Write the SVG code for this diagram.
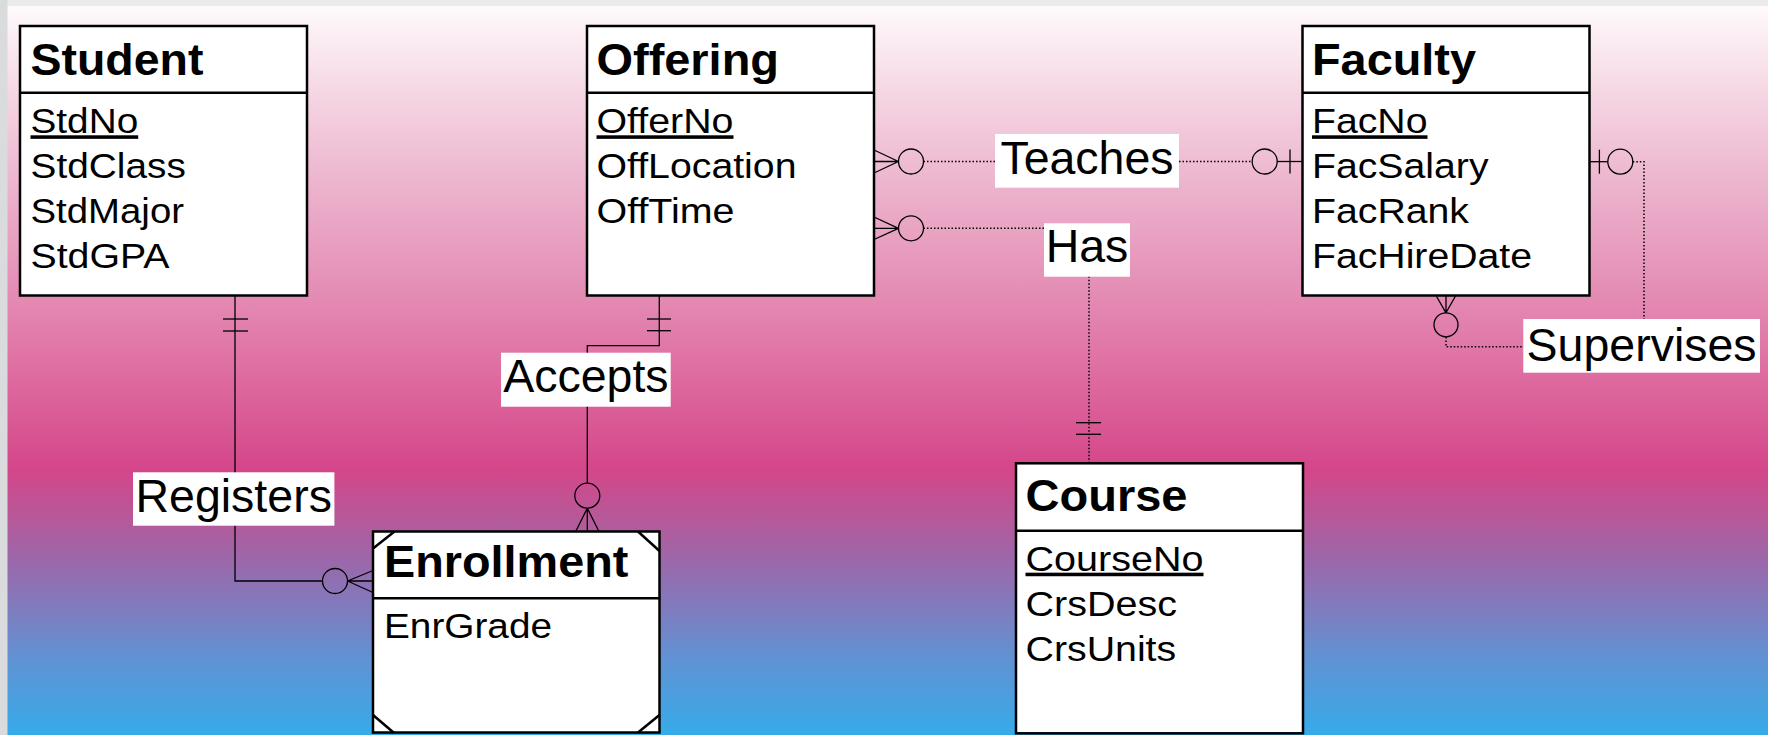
<svg xmlns="http://www.w3.org/2000/svg" width="1768" height="735" viewBox="0 0 1768 735">
  <defs>
    <linearGradient id="bg" x1="0" y1="6" x2="0" y2="735" gradientUnits="userSpaceOnUse">
      <stop offset="0" stop-color="#fefafc"/>
      <stop offset="0.1207" stop-color="#f5d6e3"/>
      <stop offset="0.2483" stop-color="#ecb3cd"/>
      <stop offset="0.3772" stop-color="#e591b7"/>
      <stop offset="0.5062" stop-color="#de6ca0"/>
      <stop offset="0.6351" stop-color="#d4468a"/>
      <stop offset="0.6996" stop-color="#b85898"/>
      <stop offset="0.7627" stop-color="#9a68ab"/>
      <stop offset="0.8272" stop-color="#7f7cbe"/>
      <stop offset="0.8916" stop-color="#6291d2"/>
      <stop offset="1" stop-color="#36abe9"/>
    </linearGradient>
    <style>
      .box{fill:#fff;stroke:#000;stroke-width:2.5}
      .div{stroke:#000;stroke-width:2.5}
      .corner{stroke:#000;stroke-width:2.5}
      .title{font-family:"Liberation Sans",Arial,sans-serif;font-size:43.5px;font-weight:bold;fill:#000}
      .attr{font-family:"Liberation Sans",Arial,sans-serif;font-size:35.5px;fill:#000}
      .pk{text-decoration:underline}
      .lblbg{fill:#fff}
      .lbl{font-family:"Liberation Sans",Arial,sans-serif;font-size:46.5px;fill:#000;text-anchor:middle}
      .ln{fill:none;stroke:#000;stroke-width:1.3}
      .dot{fill:none;stroke:#000;stroke-width:1.5;stroke-dasharray:1.5 2}
      .ring{fill:none;stroke:#000;stroke-width:1.3}
    </style>
  </defs>

  <!-- slide background with thin grey frame on top and left -->
  <rect x="0" y="0" width="1768" height="735" fill="url(#bg)"/>
  <rect x="0" y="0" width="1768" height="6" fill="#ebebeb"/>
  <rect x="0" y="0" width="7.5" height="735" fill="#dadbdc"/>

  <!-- relationships -->
  <g id="connectors">
    <!-- Registers: Student (1) to Enrollment (0..*) -->
    <g id="rel-registers">
      <polyline class="ln" points="235,295.5 235,581 322.5,581"/>
      <line class="ln" x1="223" y1="319" x2="248" y2="319"/>
      <line class="ln" x1="223" y1="331" x2="248" y2="331"/>
      <circle class="ring" cx="335" cy="581" r="12.5"/>
      <path class="ln" d="M347.5,581 L373,570.5 M347.5,581 L373,581 M347.5,581 L373,592.5"/>
      <rect class="lblbg" x="133" y="472.3" width="201.4" height="53.4"/>
      <text class="lbl" x="233.7" y="511.7">Registers</text>
    </g>
    <!-- Accepts: Offering (1) to Enrollment (0..*) -->
    <g id="rel-accepts">
      <polyline class="ln" points="659.3,295.5 659.3,345.7 587.3,345.7 587.3,483.2"/>
      <line class="ln" x1="647" y1="319" x2="671" y2="319"/>
      <line class="ln" x1="647" y1="330.7" x2="671" y2="330.7"/>
      <circle class="ring" cx="587.3" cy="495.7" r="12.5"/>
      <path class="ln" d="M587.3,508.2 L575.7,531.5 M587.3,508.2 L587.3,531.5 M587.3,508.2 L599,531.5"/>
      <rect class="lblbg" x="501" y="352.7" width="169.7" height="54"/>
      <text class="lbl" x="585.9" y="391.7">Accepts</text>
    </g>
    <!-- Teaches: Faculty (0..1) to Offering (0..*) -->
    <g id="rel-teaches">
      <line class="dot" x1="923.5" y1="161.5" x2="1252.2" y2="161.5"/>
      <circle class="ring" cx="911" cy="161.5" r="12.5"/>
      <path class="ln" d="M898.5,161.5 L874,150 M898.5,161.5 L874,161.5 M898.5,161.5 L874,173"/>
      <circle class="ring" cx="1264.7" cy="161.5" r="12.5"/>
      <line class="ln" x1="1277.2" y1="161.5" x2="1302.5" y2="161.5"/>
      <line class="ln" x1="1290" y1="149.5" x2="1290" y2="173.5"/>
      <rect class="lblbg" x="995" y="134" width="184" height="53.7"/>
      <text class="lbl" x="1087" y="174">Teaches</text>
    </g>
    <!-- Has: Course (1) to Offering (0..*) -->
    <g id="rel-has">
      <polyline class="dot" points="923.5,228.3 1089,228.3 1089,463.3"/>
      <circle class="ring" cx="911" cy="228.3" r="12.5"/>
      <path class="ln" d="M898.5,228.3 L874,217 M898.5,228.3 L874,228.3 M898.5,228.3 L874,239.5"/>
      <line class="ln" x1="1076" y1="422.7" x2="1101" y2="422.7"/>
      <line class="ln" x1="1076" y1="434.3" x2="1101" y2="434.3"/>
      <rect class="lblbg" x="1044" y="223.3" width="86" height="53.4"/>
      <text class="lbl" x="1087" y="261.5">Has</text>
    </g>
    <!-- Supervises: Faculty (0..1) to Faculty (0..*) -->
    <g id="rel-supervises">
      <polyline class="dot" points="1632.8,161.7 1644,161.7 1644,346.7 1446,346.7 1446,337"/>
      <line class="ln" x1="1589.3" y1="161.7" x2="1607.8" y2="161.7"/>
      <line class="ln" x1="1599.4" y1="149.7" x2="1599.4" y2="173.7"/>
      <circle class="ring" cx="1620.3" cy="161.7" r="12.5"/>
      <circle class="ring" cx="1446" cy="324.8" r="12"/>
      <path class="ln" d="M1446,312.8 L1436,295.5 M1446,312.8 L1446,295.5 M1446,312.8 L1455.8,295.5"/>
      <rect class="lblbg" x="1523.3" y="319" width="236.7" height="53.7"/>
      <text class="lbl" x="1641.6" y="360.5">Supervises</text>
    </g>
  </g>

  <!-- entities -->
  <g id="student">
    <rect class="box" x="20" y="26" width="287" height="269.5"/>
    <line class="div" x1="20" y1="92.7" x2="307" y2="92.7"/>
    <text class="title" x="30.5" y="75" textLength="173" lengthAdjust="spacingAndGlyphs">Student</text>
    <text class="attr pk" x="30.5" y="133.3" textLength="107.7" lengthAdjust="spacingAndGlyphs">StdNo</text>
    <text class="attr" x="30.5" y="178.3" textLength="155.3" lengthAdjust="spacingAndGlyphs">StdClass</text>
    <text class="attr" x="30.5" y="223.3" textLength="153.5" lengthAdjust="spacingAndGlyphs">StdMajor</text>
    <text class="attr" x="30.5" y="268.3" textLength="139" lengthAdjust="spacingAndGlyphs">StdGPA</text>
  </g>

  <g id="offering">
    <rect class="box" x="587" y="26" width="287" height="269.5"/>
    <line class="div" x1="587" y1="92.7" x2="874" y2="92.7"/>
    <text class="title" x="596.5" y="75" textLength="182.5" lengthAdjust="spacingAndGlyphs">Offering</text>
    <text class="attr pk" x="596.5" y="133.3" textLength="137" lengthAdjust="spacingAndGlyphs">OfferNo</text>
    <text class="attr" x="596.5" y="178.3" textLength="200" lengthAdjust="spacingAndGlyphs">OffLocation</text>
    <text class="attr" x="596.5" y="223.3" textLength="138" lengthAdjust="spacingAndGlyphs">OffTime</text>
  </g>

  <g id="faculty">
    <rect class="box" x="1302.5" y="26" width="287" height="269.5"/>
    <line class="div" x1="1302.5" y1="92.7" x2="1589.5" y2="92.7"/>
    <text class="title" x="1312" y="75" textLength="164" lengthAdjust="spacingAndGlyphs">Faculty</text>
    <text class="attr pk" x="1312" y="133.3" textLength="115.5" lengthAdjust="spacingAndGlyphs">FacNo</text>
    <text class="attr" x="1312" y="178.3" textLength="176.5" lengthAdjust="spacingAndGlyphs">FacSalary</text>
    <text class="attr" x="1312" y="223.3" textLength="157" lengthAdjust="spacingAndGlyphs">FacRank</text>
    <text class="attr" x="1312" y="268.3" textLength="220" lengthAdjust="spacingAndGlyphs">FacHireDate</text>
  </g>

  <g id="enrollment">
    <rect class="box" x="373" y="531.5" width="286.5" height="201"/>
    <line class="div" x1="373" y1="598.3" x2="659.5" y2="598.3"/>
    <!-- cut corners of the associative entity -->
    <line class="corner" x1="373" y1="548.5" x2="394.5" y2="531.5"/>
    <line class="corner" x1="638" y1="531.5" x2="659.5" y2="551"/>
    <line class="corner" x1="373" y1="715" x2="393.5" y2="732.5"/>
    <line class="corner" x1="638" y1="732.5" x2="659.5" y2="715"/>
    <text class="title" x="384" y="576.7" textLength="244.3" lengthAdjust="spacingAndGlyphs">Enrollment</text>
    <text class="attr" x="384" y="637.7" textLength="168" lengthAdjust="spacingAndGlyphs">EnrGrade</text>
  </g>

  <g id="course">
    <rect class="box" x="1016" y="463.3" width="287" height="270"/>
    <line class="div" x1="1016" y1="530.7" x2="1303" y2="530.7"/>
    <text class="title" x="1025.5" y="510.7" textLength="162" lengthAdjust="spacingAndGlyphs">Course</text>
    <text class="attr pk" x="1025.5" y="570.7" textLength="178" lengthAdjust="spacingAndGlyphs">CourseNo</text>
    <text class="attr" x="1025.5" y="615.7" textLength="151.5" lengthAdjust="spacingAndGlyphs">CrsDesc</text>
    <text class="attr" x="1025.5" y="660.7" textLength="150.7" lengthAdjust="spacingAndGlyphs">CrsUnits</text>
  </g>
</svg>
